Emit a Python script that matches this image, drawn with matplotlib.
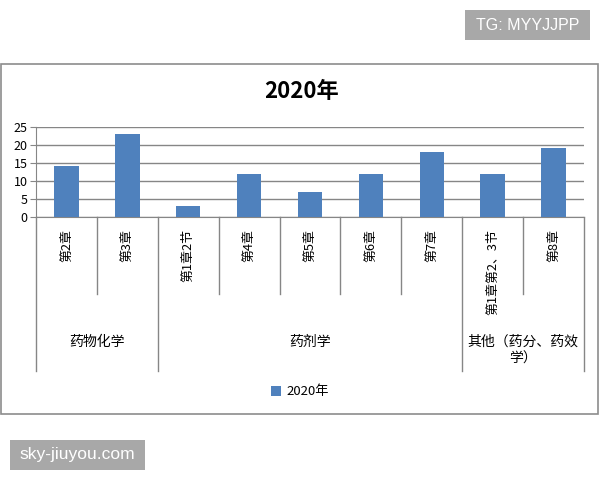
import matplotlib
matplotlib.use('Agg')
import matplotlib.pyplot as plt
import matplotlib.transforms as mtransforms
from matplotlib.patches import Rectangle
import numpy as np

plt.rcParams['font.family'] = ['Noto Sans CJK SC', 'DejaVu Sans']

# data
chapters = ['第2章', '第3章', '第1章2节', '第4章', '第5章', '第6章', '第7章', '第1章第2、3节', '第8章']
counts = [14, 23, 3, 12, 7, 12, 18, 12, 19]
groups = ['药物化学', '药剂学', '其他（药分、药效\n学）']
group_sizes = [2, 5, 2]
series_name = '2020年'
y_ticks = [0, 5, 10, 15, 20, 25]

W, H = 600, 480
BAR_COLOR = '#4F81BD'
GRID_COLOR = '#868686'


def fx(px):
    return px / W


def fy(py):
    return 1 - py / H


fig = plt.figure(figsize=(6, 4.8), dpi=100)

# chart border
fig.patches.append(Rectangle((fx(1), fy(414)), fx(597), (414 - 64) / H,
                             transform=fig.transFigure, fill=False,
                             edgecolor='#8c8c8c', linewidth=1.2))

ax = fig.add_axes([fx(36), fy(217), fx(584) - fx(36), (217 - 126.7) / H])
x = np.arange(len(chapters))
bars = ax.bar(x, counts, width=0.4, color=BAR_COLOR, label=series_name, zorder=3)

ax.set_xlim(-0.5, len(chapters) - 0.5)
ax.set_ylim(0, 25)
ax.set_yticks(y_ticks)
ax.tick_params(axis='y', length=4, color=GRID_COLOR, labelsize=9, pad=2)
ax.grid(axis='y', color=GRID_COLOR, linewidth=1, zorder=0)
for side in ['top', 'right']:
    ax.spines[side].set_visible(False)
for side in ['left', 'bottom']:
    ax.spines[side].set_color(GRID_COLOR)

ax.set_xticks(x, chapters, rotation=90, fontsize=9.3)
ax.tick_params(axis='x', length=0, pad=9)

# multi-level category separators
trans = mtransforms.blended_transform_factory(ax.transData, fig.transFigure)
bounds = np.cumsum([0] + group_sizes) - 0.5
for b in np.arange(-0.5, len(chapters)):
    bottom = 371 if b in bounds else 294
    ax.plot([b, b], [fy(217), fy(bottom)], color=GRID_COLOR, linewidth=1,
            transform=trans, clip_on=False)

for i, name in enumerate(groups):
    center = (bounds[i] + bounds[i + 1]) / 2
    yy = 342 if '\n' not in name else 350.5
    ax.text(center, fy(yy), name, transform=trans, ha='center', va='center',
            fontsize=10, linespacing=1.3)

fig.text(0.502, fy(92), '2020年', ha='center', va='center',
         fontsize=16, fontweight='bold')

fig.legend(handles=[bars], labels=[series_name], loc='center',
           bbox_to_anchor=(0.5, fy(392)), frameon=False, fontsize=9.5,
           handlelength=0.7, handleheight=0.7, handletextpad=0.4)

# watermark boxes
for (x0, y0, x1, y1, txt, fs) in [(465, 10, 590, 40, 'TG: MYYJJPP', 11.5),
                                  (10, 440, 145, 470, 'sky-jiuyou.com', 12.5)]:
    fig.patches.append(Rectangle((fx(x0), fy(y1)), fx(x1 - x0), (y1 - y0) / H,
                                 transform=fig.transFigure, facecolor='#a8a8a8',
                                 edgecolor='none'))
    fig.text(fx((x0 + x1) / 2), fy((y0 + y1) / 2), txt, ha='center', va='center',
             color='white', fontsize=fs, family=['Liberation Sans', 'DejaVu Sans'])

fig.savefig('out.png', dpi=100)
